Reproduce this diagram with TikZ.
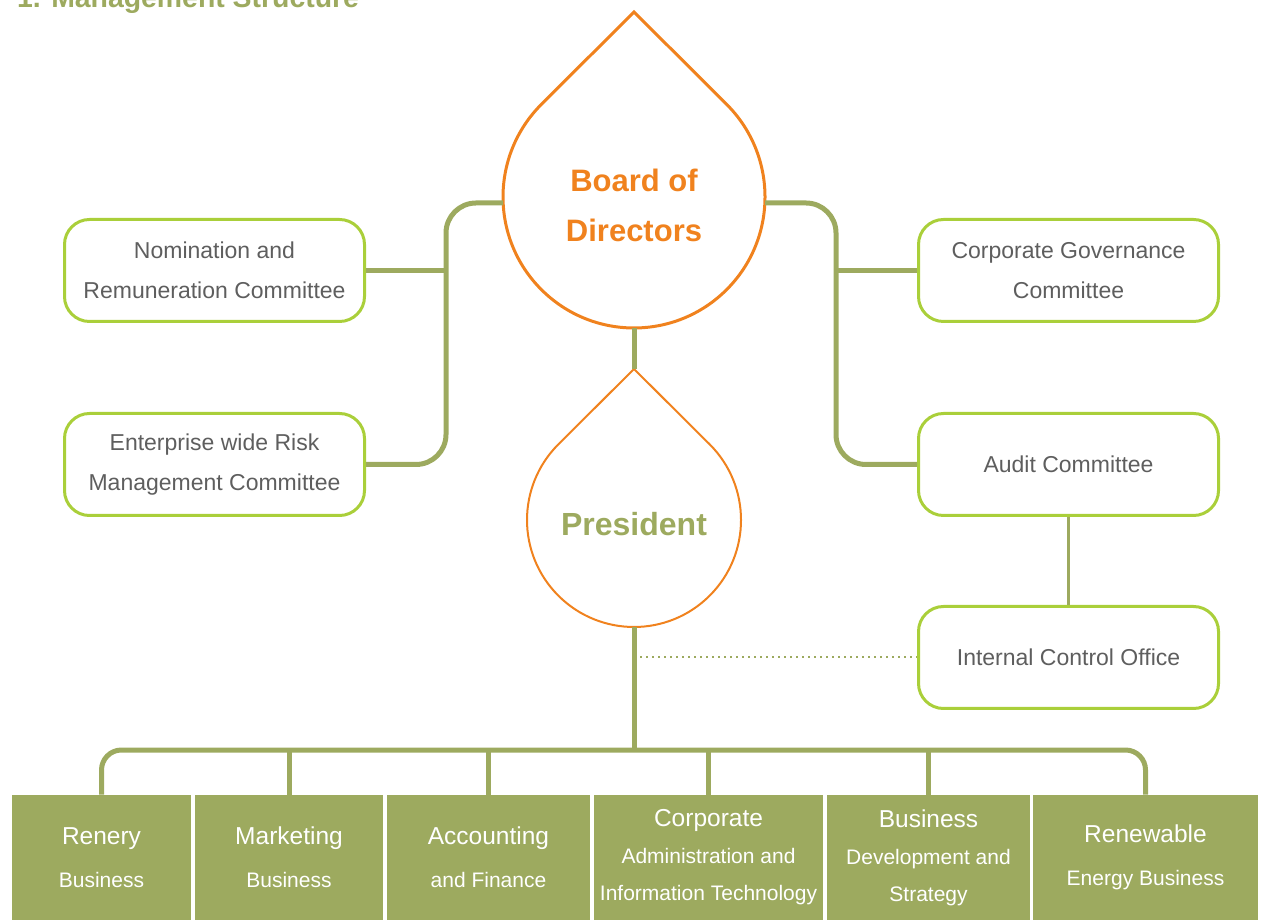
\documentclass[tikz,border=0pt]{standalone}
\usepackage{fontspec}
\setmainfont{Liberation Sans}
\definecolor{ptgreen}{HTML}{9DAA5F}
\definecolor{ptlime}{HTML}{AACF3A}
\definecolor{ptorange}{HTML}{F0821E}
\definecolor{ptgray}{HTML}{5E5E5E}
\newcommand{\hd}[1]{{\fontsize{12.25}{12.25}\selectfont #1}}

\begin{document}
\begin{tikzpicture}[x=0.5pt,y=0.5pt,
  link/.style={draw=ptgreen, line width=2.5pt},
  box/.style={draw=ptlime, line width=1.5pt, rounded corners=12.5pt,
    minimum width=150pt, minimum height=51pt, align=center, text=ptgray,
    font=\fontsize{11.5}{20}\selectfont},
  drop/.style={circle, inner sep=0pt, outer sep=0pt},
  unit/.style={fill=ptgreen, text=white, inner sep=0pt, minimum height=62.5pt,
    align=center, font=\fontsize{10.5}{18.5}\selectfont}]
\useasboundingbox (0,0) rectangle (1261,920);
\node[anchor=base west, text=ptgreen, font=\bfseries\fontsize{14.2}{14.2}\selectfont]
  (title) at (10,912) {1. Management Structure};

% drops: circle node plus a pointed tip
\node[drop, minimum size=131pt] (board) at (634,723) {};
\coordinate (btip) at (634,908);
\draw[ptorange, line width=1.5pt] (board.135) arc[start angle=135, end angle=405, radius=131]
  -- (btip) -- cycle;
\node[align=center, text=ptorange, font=\bfseries\fontsize{15.5}{25}\selectfont]
  (boardlbl) at (634,715) {Board of\\Directors};

\node[drop, minimum size=107pt] (pres) at (634,400) {};
\coordinate (ptip) at (634,551);
\draw[ptorange, line width=1pt] (pres.135) arc[start angle=135, end angle=405, radius=107]
  -- (ptip) -- cycle;
\node[text=ptgreen, font=\bfseries\fontsize{16}{19}\selectfont] (preslbl) at (634,396) {President};

\node[box] (nrc) at (214.5,649.5) {Nomination and\\Remuneration Committee};
\node[box] (erm) at (214.5,455.5) {Enterprise wide Risk\\Management Committee};
\node[box] (cgc) at (1068.5,649.5) {Corporate Governance\\Committee};
\node[box] (audit) at (1068.5,455.5) {Audit Committee};
\node[box] (ico) at (1068.5,262.5) {Internal Control Office};

\node[unit, minimum width=89.5pt] (u1) at (101.5,62.5) {\hd{Renery}\\[3pt]Business};
\node[unit, minimum width=94pt] (u2) at (289,62.5) {\hd{Marketing}\\[3pt]Business};
\node[unit, minimum width=101.5pt] (u3) at (488.5,62.5) {\hd{Accounting}\\[3pt]and Finance};
\node[unit, minimum width=114.5pt] (u4) at (708.5,62.5)
  {\hd{Corporate}\\Administration and\\Information Technology};
\node[unit, minimum width=101.5pt] (u5) at (928.5,62.5)
  {\hd{Business}\\Development and\\Strategy};
\node[unit, minimum width=112.5pt] (u6) at (1145.5,62.5) {\hd{Renewable}\\[3pt]Energy Business};

\coordinate (lspine) at (446,717);
\coordinate (rspine) at (836,717);
\coordinate (bus) at (634,170);
\draw[link, rounded corners=15pt] (board.west |- lspine) -- (lspine) |- (erm.east);
\draw[link] (nrc.east) -- (nrc.east -| lspine);
\draw[link, rounded corners=15pt] (board.east |- rspine) -- (rspine) |- (audit.west);
\draw[link] (cgc.west) -- (cgc.west -| rspine);
\draw[link] (board.south) -- (ptip);
\draw[ptgreen, line width=1.5pt] (audit.south) -- (ico.north);
\draw[link] (pres.south) -- (bus);
\draw[ptgreen, line width=1pt, dotted] (pres.south |- ico.west) -- (ico.west);
\draw[link, rounded corners=10pt] (u1.north) |- (bus) -| (u6.north);
\draw[link] (u2.north) -- (u2.north |- bus);
\draw[link] (u3.north) -- (u3.north |- bus);
\draw[link] (u4.north) -- (u4.north |- bus);
\draw[link] (u5.north) -- (u5.north |- bus);
\end{tikzpicture}
\end{document}
